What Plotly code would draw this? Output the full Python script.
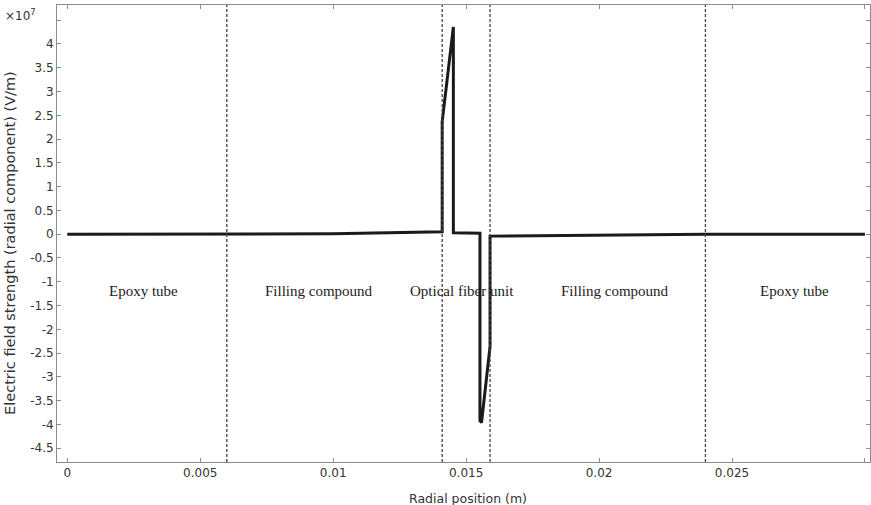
import plotly.graph_objects as go

# Data (radial position in m, field in V/m)
radial_pos = [0.0, 0.006, 0.010, 0.0141, 0.0141, 0.01452, 0.01452, 0.01552, 0.01552,
              0.01558, 0.0159, 0.0159, 0.020, 0.024, 0.030]
e_field = [0.0, 0.0, 0.01e7, 0.05e7, 2.37e7, 4.36e7, 0.03e7, 0.02e7, -3.92e7,
           -3.96e7, -2.36e7, -0.04e7, -0.02e7, 0.0, 0.0]

boundaries = [0.006, 0.0141, 0.0159, 0.024]
region_names = ["Epoxy tube", "Filling compound", "Optical fiber unit", "Filling compound", "Epoxy tube"]
region_x = [0.00285, 0.00946, 0.01485, 0.02060, 0.02735]
region_y = -1.2e7

x_tickvals = [0, 0.005, 0.01, 0.015, 0.02, 0.025, 0.03]
x_ticktext = ["0", "0.005", "0.01", "0.015", "0.02", "0.025", ""]
y_tickvals = [v * 1e7 for v in [-4.5, -4, -3.5, -3, -2.5, -2, -1.5, -1, -0.5, 0, 0.5, 1, 1.5, 2, 2.5, 3, 3.5, 4, 4.5]]
y_ticktext = ["-4.5", "-4", "-3.5", "-3", "-2.5", "-2", "-1.5", "-1", "-0.5", "0",
              "0.5", "1", "1.5", "2", "2.5", "3", "3.5", "4", ""]

fig = go.Figure()
fig.add_trace(go.Scatter(x=radial_pos, y=e_field, mode="lines",
                         line=dict(color="#1a1a1a", width=3), showlegend=False))

for b in boundaries:
    fig.add_shape(type="line", x0=b, x1=b, xref="x", yref="paper", y0=0, y1=1,
                  line=dict(color="#444444", width=1.3, dash="3px,2px"))

for name, xv in zip(region_names, region_x):
    fig.add_annotation(x=xv, y=region_y, text=name, showarrow=False,
                       font=dict(family="Liberation Serif", size=15, color="#222222"))

axis_common = dict(showline=True, linecolor="#8c8c8c", linewidth=1, mirror="ticks",
                   ticks="inside", ticklen=4, tickcolor="#8c8c8c", showgrid=False,
                   zeroline=False, automargin=False,
                   tickfont=dict(family="DejaVu Sans", size=12, color="#333333"))

fig.update_xaxes(range=[-0.000387, 0.03019], tickvals=x_tickvals, ticktext=x_ticktext, **axis_common)
fig.update_yaxes(range=[-4.79e7, 4.82e7], tickvals=y_tickvals, ticktext=y_ticktext, **axis_common)

fig.add_annotation(xref="paper", yref="paper", x=0.505, y=-0.058, yanchor="top",
                   text="Radial position (m)", showarrow=False,
                   font=dict(family="DejaVu Sans", size=12.5, color="#333333"))
fig.add_annotation(xref="paper", yref="paper", x=-0.058, y=0.479, xanchor="center",
                   text="Electric field strength (radial component) (V/m)", textangle=-90,
                   showarrow=False, font=dict(family="DejaVu Sans", size=14.5, color="#333333"))
fig.add_annotation(xref="paper", yref="paper", x=-0.045, y=0.978, xanchor="center", yanchor="middle",
                   text="×10<sup>7</sup>", showarrow=False,
                   font=dict(family="DejaVu Sans", size=12, color="#333333"))

fig.update_layout(width=871, height=505, margin=dict(l=57, r=1, t=5, b=43),
                  plot_bgcolor="white", paper_bgcolor="white")

fig.write_html("out.html", config={"displayModeBar": False},
               post_script="document.body.style.margin='0';document.body.style.overflow='hidden';")
